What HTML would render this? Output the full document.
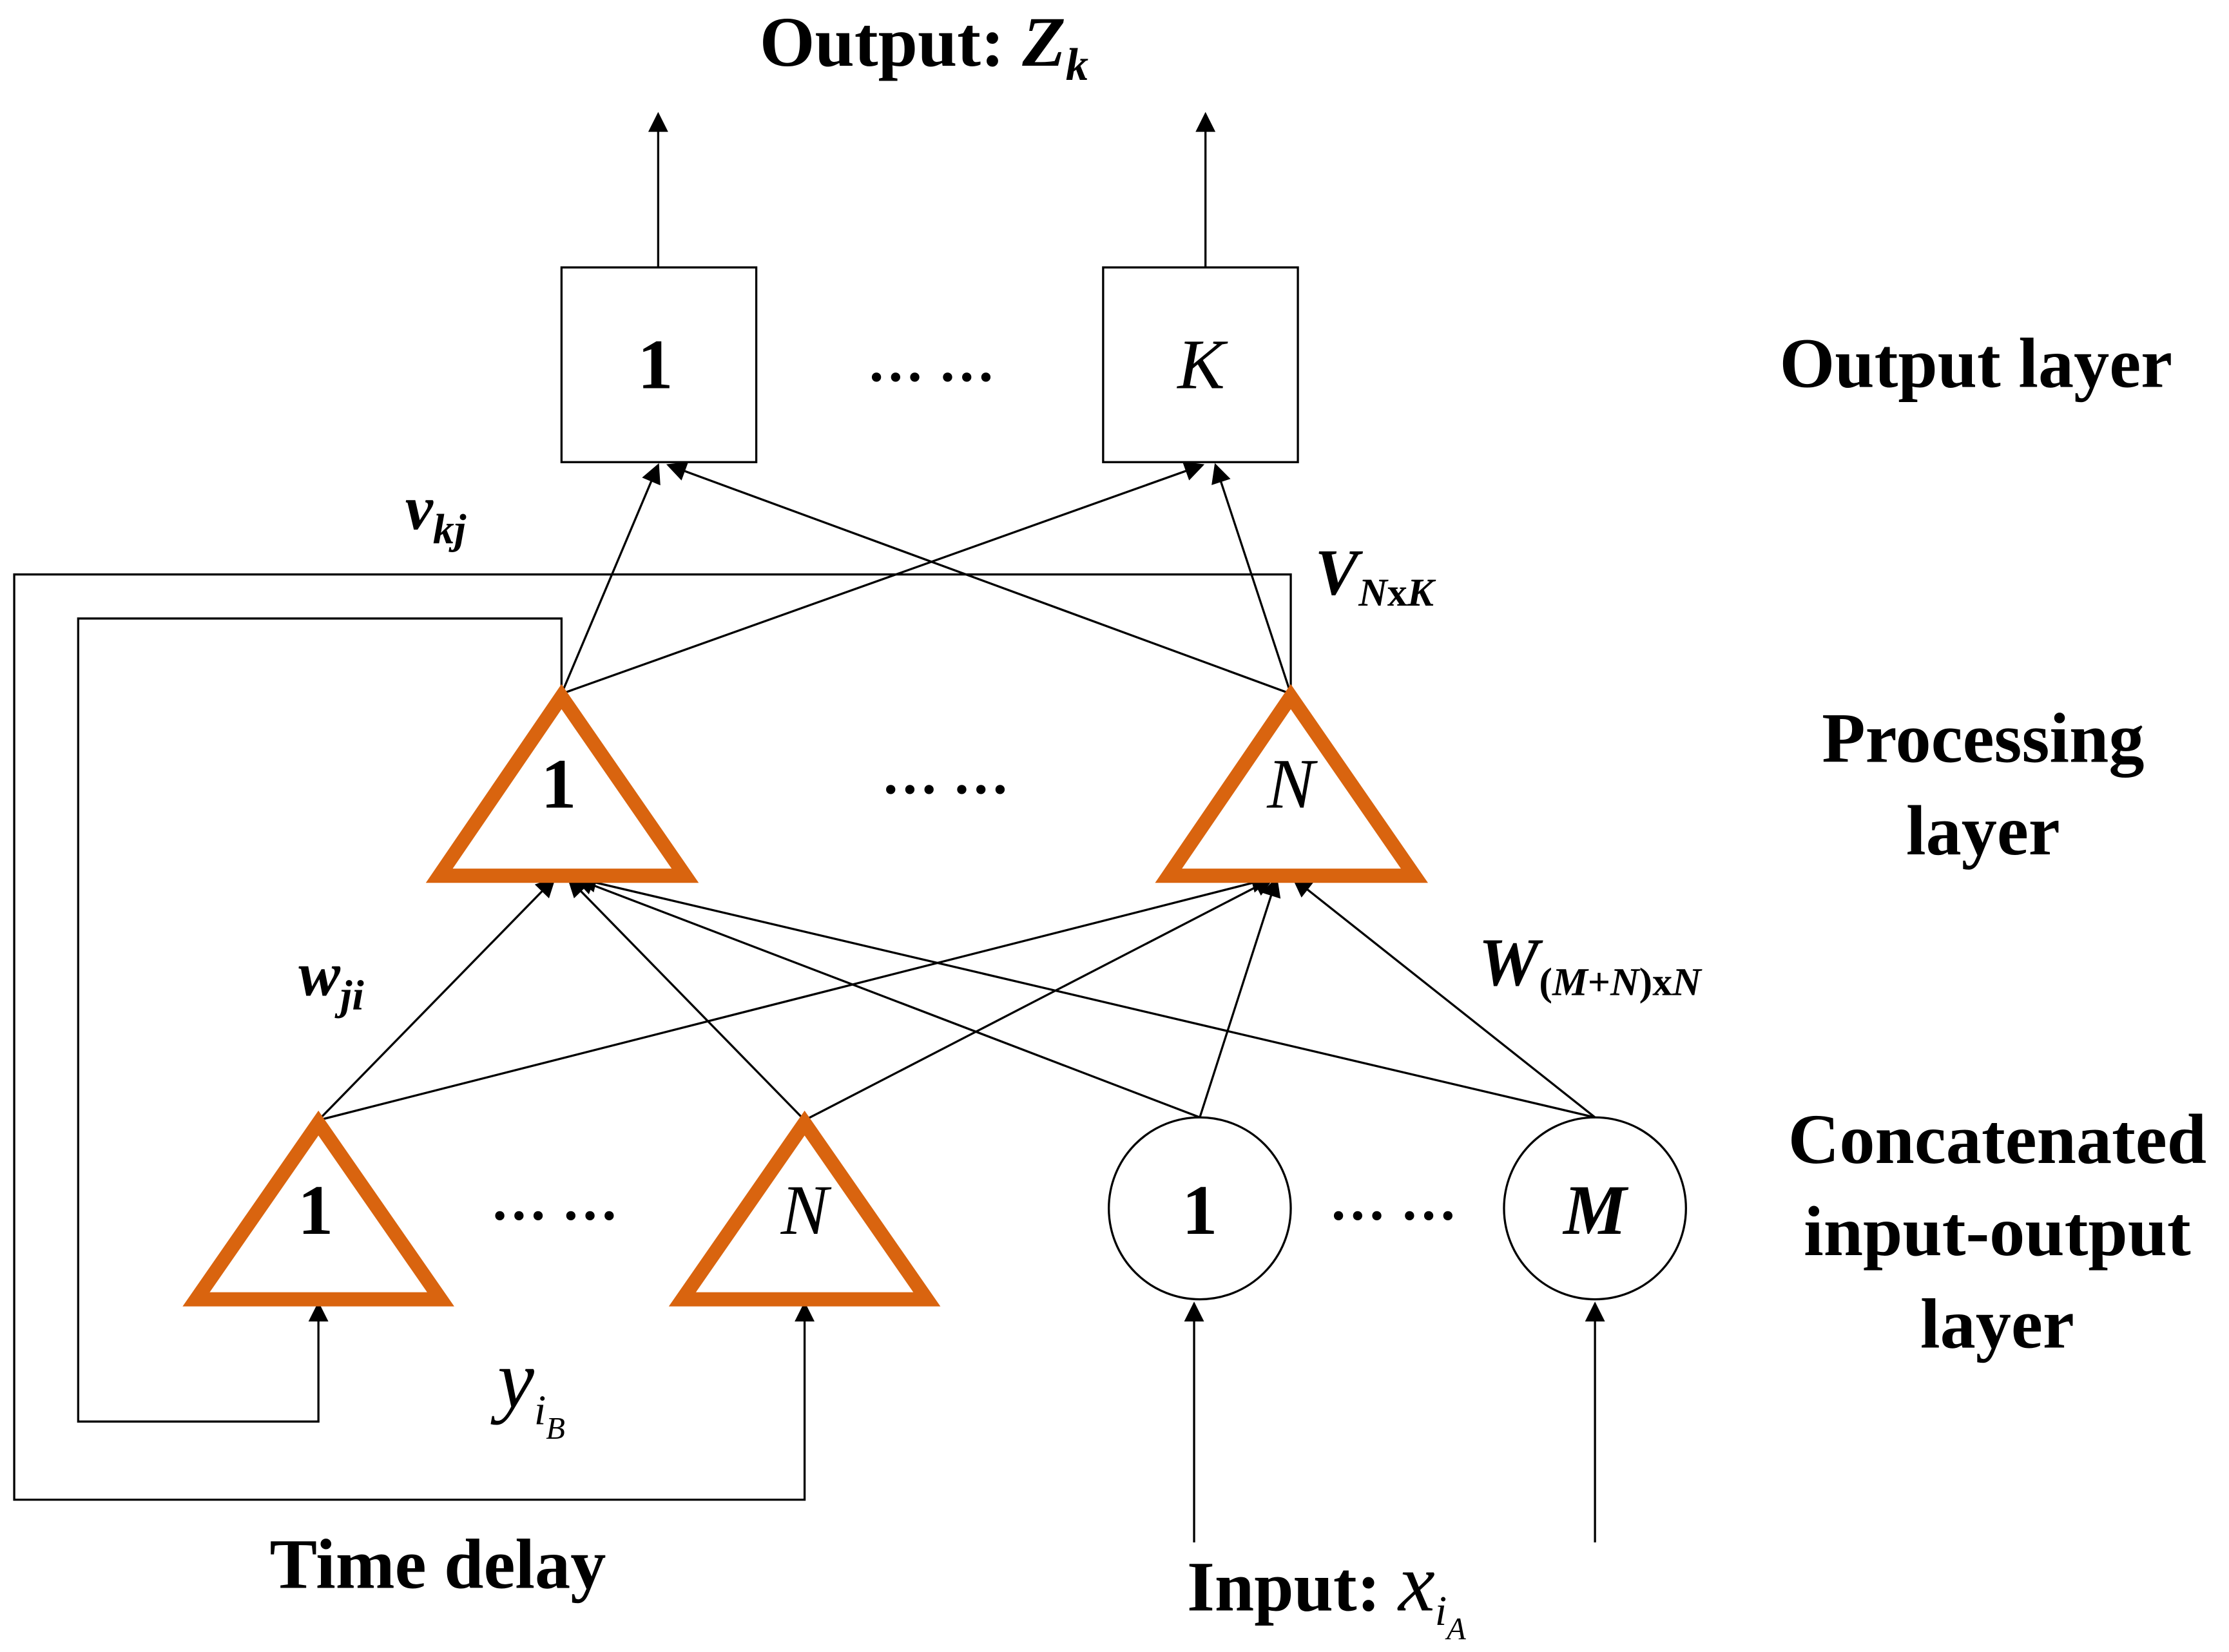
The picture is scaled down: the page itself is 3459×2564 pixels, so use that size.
<!DOCTYPE html>
<html><head><meta charset="utf-8"><style>
html,body{margin:0;padding:0;background:#fff}
svg{display:block}
text{font-family:"Liberation Serif",serif;fill:#000}
.b{font-weight:bold}
</style></head><body>
<svg width="3459" height="2564" viewBox="0 0 1568 1162" xmlns="http://www.w3.org/2000/svg">
<defs>
<marker id="a" viewBox="0 0 10 10" refX="9" refY="5" markerWidth="9" markerHeight="9" markerUnits="userSpaceOnUse" orient="auto">
<path d="M0,0 L10,5 L0,10 z" fill="#000"/></marker>
<marker id="a2" viewBox="0 0 10 10" refX="9" refY="5" markerWidth="20" markerHeight="14" markerUnits="userSpaceOnUse" orient="auto">
<path d="M0,0 L10,5 L0,10 z" fill="#000"/></marker>
</defs>
<g stroke="#000" stroke-width="1.5" fill="none">
<line x1="463" y1="188" x2="463" y2="80" marker-end="url(#a2)"/>
<line x1="848" y1="188" x2="848" y2="80" marker-end="url(#a2)"/>
<rect x="395" y="188" width="137" height="137"/>
<rect x="776" y="188" width="137" height="137"/>
<line x1="395" y1="488" x2="463" y2="327" marker-end="url(#a2)"/>
<line x1="395" y1="488" x2="846" y2="327" marker-end="url(#a2)"/>
<line x1="908" y1="488" x2="470" y2="327" marker-end="url(#a2)"/>
<line x1="908" y1="488" x2="855" y2="327" marker-end="url(#a2)"/>
<polyline points="395,488 395,435 55,435 55,1000 224,1000 224,917" marker-end="url(#a2)"/>
<polyline points="908,488 908,404 10,404 10,1055 566,1055 566,917" marker-end="url(#a2)"/>
<line x1="224" y1="788" x2="390" y2="618" marker-end="url(#a2)"/>
<line x1="224" y1="788" x2="893" y2="618" marker-end="url(#a2)"/>
<line x1="566" y1="788" x2="400" y2="618" marker-end="url(#a2)"/>
<line x1="566" y1="788" x2="895" y2="618" marker-end="url(#a2)"/>
<line x1="844" y1="786" x2="405" y2="618" marker-end="url(#a2)"/>
<line x1="844" y1="786" x2="898" y2="618" marker-end="url(#a2)"/>
<line x1="1122" y1="786" x2="407" y2="618" marker-end="url(#a2)"/>
<line x1="1122" y1="786" x2="910" y2="618" marker-end="url(#a2)"/>
<line x1="840" y1="1085" x2="840" y2="917" marker-end="url(#a2)"/>
<line x1="1122" y1="1085" x2="1122" y2="917" marker-end="url(#a2)"/>
<circle cx="844" cy="850" r="64"/>
<circle cx="1122" cy="850" r="64"/>
</g>
<g stroke="#d9640f" stroke-width="10" fill="none" stroke-linejoin="miter">
<polygon points="395,490 309,616 482,616"/>
<polygon points="908,490 822,616 995,616"/>
<polygon points="224,790 138,914 310,914"/>
<polygon points="566,790 480,914 652,914"/>
</g>
<g font-size="50" text-anchor="middle">
<text x="650" y="46" class="b">Output: <tspan font-style="italic">Z</tspan><tspan font-style="italic" font-size="32" dy="10">k</tspan></text>
<text x="461" y="273" class="b">1</text>
<text x="845" y="273" font-style="italic">K</text>
<text x="655" y="268" class="b" font-size="40">… …</text>
<text x="1390" y="272" class="b">Output layer</text>
<text x="393" y="568" class="b">1</text>
<text x="908" y="568" font-style="italic">N</text>
<text x="665" y="558" class="b" font-size="40">… …</text>
<text x="1395" y="536" class="b">Processing</text>
<text x="1395" y="601" class="b">layer</text>
<text x="222" y="868" class="b">1</text>
<text x="566" y="868" font-style="italic">N</text>
<text x="390" y="858" class="b" font-size="40">… …</text>
<text x="844" y="868" class="b">1</text>
<text x="1122" y="868" class="b" font-style="italic">M</text>
<text x="980" y="858" class="b" font-size="40">… …</text>
<text x="1405" y="818" class="b">Concatenated</text>
<text x="1405" y="883" class="b">input-output</text>
<text x="1405" y="948" class="b">layer</text>
<text x="308" y="1117" class="b">Time delay</text>
</g>
<g class="b" font-style="italic">
<text x="285" y="372" font-size="44" font-weight="bold">v<tspan font-size="30" dy="10">kj</tspan></text>
<text x="925" y="418" font-size="46" font-weight="bold">V<tspan font-size="28" dy="8">N</tspan><tspan font-size="28" font-style="normal">x</tspan><tspan font-size="28">K</tspan></text>
<text x="210" y="700" font-size="44" font-weight="bold">w<tspan font-size="30" dy="10">ji</tspan></text>
<text x="1040" y="693" font-size="48" font-weight="bold">W<tspan font-size="28" dy="7" font-style="normal">(</tspan><tspan font-size="28">M</tspan><tspan font-size="28" font-style="normal">+</tspan><tspan font-size="28">N</tspan><tspan font-size="28" font-style="normal">)x</tspan><tspan font-size="28">N</tspan></text>
</g>
<text x="350" y="990" font-size="58" font-style="italic">y<tspan font-size="30" dy="12">i</tspan><tspan font-size="22" dy="10">B</tspan></text>
<text x="835" y="1133" font-size="50" class="b">Input: <tspan font-weight="normal" font-style="italic" font-size="58">x</tspan><tspan font-weight="normal" font-style="italic" font-size="30" dy="10">i</tspan><tspan font-weight="normal" font-style="italic" font-size="22" dy="10">A</tspan></text>
</svg>
</body></html>
